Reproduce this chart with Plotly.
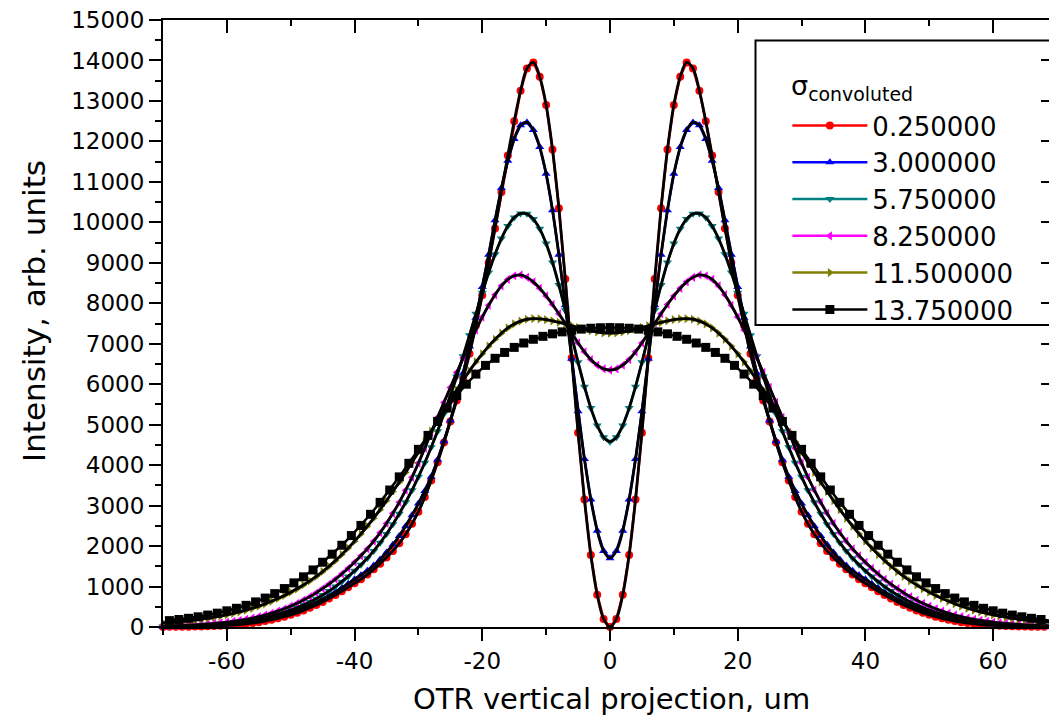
import plotly.graph_objects as go

# ---------------- data ----------------
x_fine = list(range(-70, 71))                 # OTR vertical projection, um
x_black = [k * 1.5 for k in range(-46, 47)]   # sampling of the 13.75 series

sigma_labels = ["0.250000", "3.000000", "5.750000", "8.250000", "11.500000", "13.750000"]

red = [3, 4, 5, 7, 9, 12, 15, 20, 25, 32, 40, 50, 62, 78, 97, 120, 148, 180, 215, 255,
       300, 350, 410, 475, 545, 620, 705, 790, 885, 980, 1080, 1180, 1295, 1425, 1565, 1715,
       1880, 2070, 2290, 2550, 2850, 3210, 3620, 4070, 4560, 5080, 5600, 6150, 6750, 7450,
       8200, 9000, 9850, 10750, 11650, 12500, 13250, 13800, 13950, 13600, 12900, 11800,
       10350, 8600, 6650, 4800, 3150, 1780, 800, 200,
       0,
       200, 800, 1780, 3150, 4800, 6650, 8600, 10350, 11800, 12900, 13600, 13950, 13800,
       13250, 12500, 11650, 10750, 9850, 9000, 8200, 7450, 6750, 6150, 5600, 5080, 4560,
       4070, 3620, 3210, 2850, 2550, 2290, 2070, 1880, 1715, 1565, 1425, 1295, 1180, 1080,
       980, 885, 790, 705, 620, 545, 475, 410, 350, 300, 255, 215, 180, 148, 120, 97, 78,
       62, 50, 40, 32, 25, 20, 15, 12, 9, 7, 5, 4, 3]

blue = [8, 10, 12, 15, 19, 24, 30, 37, 46, 56, 68, 82, 99, 118, 140, 166, 196, 230, 268,
        312, 360, 414, 474, 540, 612, 690, 775, 865, 965, 1070, 1180, 1280, 1390, 1520, 1670,
        1840, 2030, 2250, 2490, 2760, 3050, 3360, 3710, 4130, 4590, 5100, 5660, 6270, 6930,
        7640, 8400, 9200, 10050, 10850, 11520, 12060, 12400, 12470, 12280, 11860, 11200,
        10300, 9200, 7950, 6630, 5330, 4150, 3150, 2380, 1880,
        1700,
        1880, 2380, 3150, 4150, 5330, 6630, 7950, 9200, 10300, 11200, 11860, 12280, 12470,
        12400, 12060, 11520, 10850, 10050, 9200, 8400, 7640, 6930, 6270, 5660, 5100, 4590,
        4130, 3710, 3360, 3050, 2760, 2490, 2250, 2030, 1840, 1670, 1520, 1390, 1280, 1180,
        1070, 965, 865, 775, 690, 612, 540, 474, 414, 360, 312, 268, 230, 196, 166, 140,
        118, 99, 82, 68, 56, 46, 37, 30, 24, 19, 15, 12, 10, 8]

teal = [15, 18, 22, 27, 32, 39, 46, 55, 66, 78, 92, 108, 127, 149, 174, 203, 236, 274, 316,
        364, 418, 478, 545, 620, 700, 790, 890, 1000, 1120, 1250, 1390, 1540, 1700, 1880,
        2080, 2300, 2540, 2800, 3080, 3380, 3710, 4060, 4440, 4840, 5270, 5720, 6190, 6690,
        7210, 7740, 8260, 8760, 9210, 9600, 9910, 10120, 10220, 10210, 10080, 9840, 9480,
        9010, 8450, 7830, 7180, 6540, 5940, 5410, 4980, 4690,
        4580,
        4690, 4980, 5410, 5940, 6540, 7180, 7830, 8450, 9010, 9480, 9840, 10080, 10210,
        10220, 10120, 9910, 9600, 9210, 8760, 8260, 7740, 7210, 6690, 6190, 5720, 5270, 4840,
        4440, 4060, 3710, 3380, 3080, 2800, 2540, 2300, 2080, 1880, 1700, 1540, 1390, 1250,
        1120, 1000, 890, 790, 700, 620, 545, 478, 418, 364, 316, 274, 236, 203, 174, 149,
        127, 108, 92, 78, 66, 55, 46, 39, 32, 27, 22, 18, 15]

magenta = [22, 26, 31, 37, 44, 52, 62, 74, 87, 102, 120, 140, 164, 191, 222, 257, 297, 342,
           393, 450, 515, 585, 665, 750, 845, 950, 1060, 1180, 1310, 1450, 1600, 1760, 1930,
           2120, 2330, 2560, 2810, 3080, 3380, 3700, 4050, 4420, 4810, 5180, 5550, 5920, 6290,
           6650, 7000, 7340, 7660, 7950, 8210, 8430, 8590, 8680, 8700, 8640, 8530, 8370, 8180,
           7970, 7740, 7500, 7260, 7020, 6800, 6610, 6470, 6380,
           6350,
           6380, 6470, 6610, 6800, 7020, 7260, 7500, 7740, 7970, 8180, 8370, 8530, 8640, 8700,
           8680, 8590, 8430, 8210, 7950, 7660, 7340, 7000, 6650, 6290, 5920, 5550, 5180, 4810,
           4420, 4050, 3700, 3380, 3080, 2810, 2560, 2330, 2120, 1930, 1760, 1600, 1450, 1310,
           1180, 1060, 950, 845, 750, 665, 585, 515, 450, 393, 342, 297, 257, 222, 191, 164,
           140, 120, 102, 87, 74, 62, 52, 44, 37, 31, 26, 22]

olive = [104, 115, 128, 142, 158, 176, 196, 218, 243, 270, 300, 335, 373, 416, 463, 515, 572,
         635, 705, 780, 860, 945, 1040, 1140, 1250, 1370, 1500, 1640, 1790, 1950, 2120, 2300,
         2490, 2690, 2900, 3120, 3350, 3580, 3820, 4070, 4320, 4580, 4840, 5100, 5360, 5610,
         5860, 6100, 6330, 6550, 6750, 6940, 7110, 7260, 7390, 7490, 7560, 7605, 7620, 7615,
         7595, 7565, 7530, 7490, 7445, 7400, 7360, 7322, 7290, 7268,
         7260,
         7268, 7290, 7322, 7360, 7400, 7445, 7490, 7530, 7565, 7595, 7615, 7620, 7605, 7560,
         7490, 7390, 7260, 7110, 6940, 6750, 6550, 6330, 6100, 5860, 5610, 5360, 5100, 4840,
         4580, 4320, 4070, 3820, 3580, 3350, 3120, 2900, 2690, 2490, 2300, 2120, 1950, 1790,
         1640, 1500, 1370, 1250, 1140, 1040, 945, 860, 780, 705, 635, 572, 515, 463, 416, 373,
         335, 300, 270, 243, 218, 196, 176, 158, 142, 128, 115, 104]

black = [158, 185, 215, 252, 295, 342, 400, 462, 535, 620, 715, 825, 950, 1090, 1240, 1410,
         1600, 1800, 2020, 2260, 2510, 2785, 3080, 3385, 3710, 4045, 4390, 4735, 5080, 5410,
         5720, 6000, 6250, 6465, 6640, 6785, 6910, 7018, 7110, 7183, 7245, 7293, 7332, 7362,
         7383, 7395,
         7400,
         7395, 7383, 7362, 7332, 7293, 7245, 7183, 7110, 7018, 6910, 6785, 6640, 6465, 6250,
         6000, 5720, 5410, 5080, 4735, 4390, 4045, 3710, 3385, 3080, 2785, 2510, 2260, 2020,
         1800, 1600, 1410, 1240, 1090, 950, 825, 715, 620, 535, 462, 400, 342, 295, 252, 215,
         185, 158]

x_tick_vals = [-60, -40, -20, 0, 20, 40, 60]
x_tick_text = ["-60", "-40", "-20", "0", "20", "40", "60"]

assert len(x_fine) == 141
for s in (red, blue, teal, magenta, olive):
    assert len(s) == 141, len(s)
assert len(black) == len(x_black), (len(black), len(x_black))

# ---------------- styling ----------------
FONT = "DejaVu Sans"
colors = ["#FF0000", "#0000FF", "#008080", "#FF00FF", "#808000", "#000000"]
symbols = ["circle", "triangle-up", "triangle-down", "triangle-left", "triangle-right", "square"]
msizes = [8, 8, 8, 8, 8, 9]

series = [(x_fine, red), (x_fine, blue), (x_fine, teal), (x_fine, magenta), (x_fine, olive),
          (x_black, black)]

fig = go.Figure()
for (xs, ys), name, col, sym, ms in zip(series, sigma_labels, colors, symbols, msizes):
    fig.add_trace(go.Scatter(
        x=xs, y=ys, mode="lines+markers", name=name,
        line=dict(color=col, width=2.5),
        marker=dict(symbol=sym, size=ms, color=col, line=dict(width=0)),
        cliponaxis=False,
    ))

# black fitted curves drawn over the coloured series
for xs, ys in series[:5]:
    fig.add_trace(go.Scatter(
        x=xs, y=ys, mode="lines", showlegend=False, hoverinfo="skip",
        line=dict(color="black", width=2.8, shape="spline"),
    ))

# invisible trace that carries the mirrored (top / right) axes
fig.add_trace(go.Scatter(x=[0], y=[0], xaxis="x2", yaxis="y2", mode="markers",
                         marker=dict(opacity=0), showlegend=False, hoverinfo="skip"))

XR = [-70, 68.75]
YR = [0, 15000]

L, T, B = 163, 20, 93
PW, PH = 1049 - L, 720 - T - B


def px(xp):
    return (xp - L) / PW


def py(yp):
    return (720 - B - yp) / PH


fig.update_layout(
    template="none",
    width=1049, height=720,
    margin=dict(l=L, r=0, t=T, b=B),
    paper_bgcolor="white", plot_bgcolor="white",
    font=dict(family=FONT, color="black"),
    xaxis=dict(
        range=XR, tickmode="array", tickvals=x_tick_vals, ticktext=x_tick_text,
        ticks="outside", ticklen=12, tickwidth=2, tickcolor="black",
        showline=True, linewidth=2, linecolor="black",
        showgrid=False, zeroline=False, automargin=False,
        tickfont=dict(size=23, family=FONT),
        minor=dict(tickmode="linear", tick0=0, dtick=10, ticks="outside", ticklen=6,
                   tickwidth=2, tickcolor="black", showgrid=False),
    ),
    yaxis=dict(
        range=YR, tickmode="linear", tick0=0, dtick=1000, tickformat="d",
        ticks="outside", ticklen=12, tickwidth=2, tickcolor="black",
        showline=True, linewidth=2, linecolor="black",
        showgrid=False, zeroline=False, automargin=False,
        tickfont=dict(size=23, family=FONT),
        minor=dict(tickmode="linear", tick0=0, dtick=500, ticks="outside", ticklen=6,
                   tickwidth=2, tickcolor="black", showgrid=False),
    ),
    xaxis2=dict(
        overlaying="x", side="top", range=XR, tickmode="linear", tick0=0, dtick=20,
        ticks="inside", ticklen=13, tickwidth=2, tickcolor="black", showticklabels=False,
        showline=True, linewidth=2, linecolor="black", showgrid=False, zeroline=False,
        minor=dict(tickmode="linear", tick0=0, dtick=10, ticks="inside", ticklen=6,
                   tickwidth=2, tickcolor="black", showgrid=False),
    ),
    yaxis2=dict(
        overlaying="y", side="right", range=YR, tickmode="linear", tick0=0, dtick=1000,
        ticks="inside", ticklen=8, tickwidth=2, tickcolor="black", showticklabels=False,
        showline=False, showgrid=False, zeroline=False,
    ),
    legend=dict(
        x=0.7047, y=py(102), xanchor="left", yanchor="top",
        bgcolor="rgba(0,0,0,0)", borderwidth=0,
        font=dict(size=26, family=FONT, color="black"),
        itemwidth=75, tracegroupgap=0,
    ),
    shapes=[dict(type="rect", xref="paper", yref="paper",
                 x0=px(755.5), x1=1.2, y0=py(325), y1=py(40.5),
                 line=dict(color="black", width=2), fillcolor="rgba(0,0,0,0)")],
    annotations=[
        dict(text="σ<sub>convoluted</sub>", xref="paper", yref="paper",
             x=px(789), y=py(87), xanchor="left", yanchor="middle", showarrow=False,
             font=dict(size=27, family=FONT, color="black")),
        dict(text="OTR vertical projection, um", xref="paper", yref="paper",
             x=px(611), y=py(699), xanchor="center", yanchor="middle", showarrow=False,
             font=dict(size=29, family=FONT, color="black")),
        dict(text="Intensity, arb. units", xref="paper", yref="paper", textangle=-90,
             x=px(34), y=py(311), xanchor="center", yanchor="middle", showarrow=False,
             font=dict(size=31, family=FONT, color="black")),
    ],
    showlegend=True,
)

fig.write_html(
    "out.html",
    config={"displayModeBar": False},
    post_script="document.body.style.margin='0';document.body.style.overflow='hidden';",
)
